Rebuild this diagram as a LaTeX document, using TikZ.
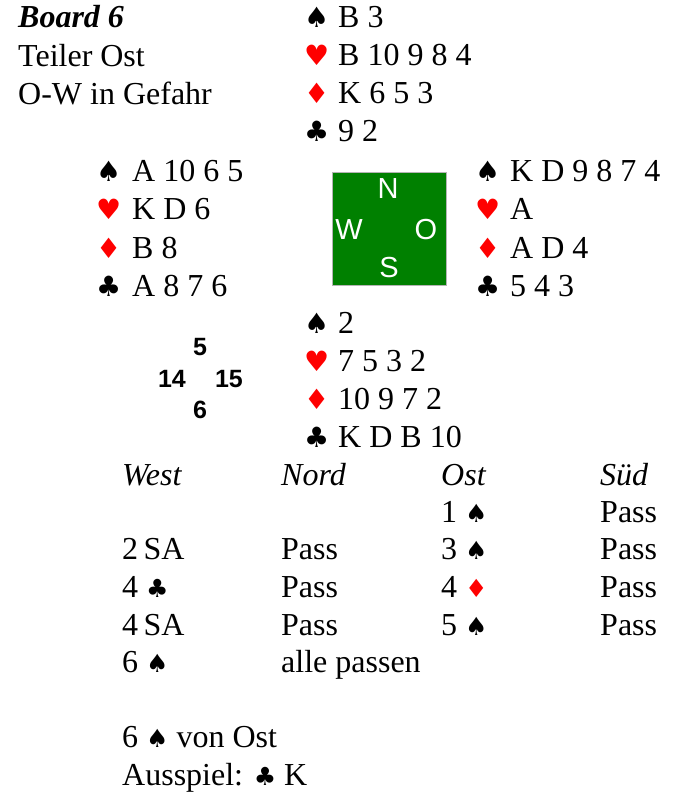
\documentclass[tikz,border=0pt]{standalone}
\usepackage{fontspec}
\setmainfont{Liberation Serif}
\newfontfamily\suitfont{DejaVu Sans}
\newfontfamily\arialfont{Liberation Sans}
\usepackage{xcolor}
\definecolor{suitred}{RGB}{255,0,0}
\definecolor{boardgreen}{RGB}{0,128,0}
\definecolor{boardedge}{RGB}{180,180,180}
\newcommand{\SuitS}{{\suitfont\char"2660}}
\newcommand{\SuitH}{{\suitfont\color{suitred}\char"2665}}
\newcommand{\SuitD}{{\suitfont\color{suitred}\char"2666}}
\newcommand{\SuitC}{{\suitfont\char"2663}}
\newcommand{\BidS}{{\fontsize{25}{25}\selectfont\SuitS}}
\newcommand{\BidD}{{\fontsize{25}{25}\selectfont\SuitD}}
\newcommand{\BidC}{{\fontsize{25}{25}\selectfont\SuitC}}

\begin{document}
\begin{tikzpicture}[x=1pt,y=-1pt,
    txt/.style={anchor=base west,inner sep=0pt,font=\fontsize{32}{32}\selectfont},
    suit/.style={anchor=base west,inner sep=0pt,font=\fontsize{28}{28}\selectfont},
    compass/.style={text=white,inner sep=0pt,font=\arialfont\fontsize{29}{29}\selectfont},
    hcp/.style={inner sep=0pt,font=\arialfont\bfseries\fontsize{25}{25}\selectfont}]
        \useasboundingbox (0,0) rectangle (675,794);
        % Board header
        \node[txt,font=\fontsize{32}{32}\selectfont\bfseries\itshape] (title) at (18,28) {Board 6};
        \node[txt] (dealer) at (18,67) {Teiler Ost};
        \node[txt] (vul) at (18,105) {O-W in Gefahr};
        % North
        \foreach \suit/\cards [count=\i] in {\SuitS/B 3,\SuitH/B 10 9 8 4,\SuitD/K 6 5 3,\SuitC/9 2}{
          \node[suit] (N-s\i) at (304,{28+38*(\i-1)}) {\suit};
          \node[txt] (N-c\i) at (338,{28+38*(\i-1)}) {\cards};
        }
        % West
        \foreach \suit/\cards [count=\i] in {\SuitS/A 10 6 5,\SuitH/K D 6,\SuitD/B 8,\SuitC/A 8 7 6}{
          \node[suit] (W-s\i) at (96,{182+38*(\i-1)}) {\suit};
          \node[txt] (W-c\i) at (132,{182+38*(\i-1)}) {\cards};
        }
        % East
        \foreach \suit/\cards [count=\i] in {\SuitS/K D 9 8 7 4,\SuitH/A,\SuitD/A D 4,\SuitC/5 4 3}{
          \node[suit] (E-s\i) at (475,{182+38*(\i-1)}) {\suit};
          \node[txt] (E-c\i) at (510,{182+38*(\i-1)}) {\cards};
        }
        % South
        \foreach \suit/\cards [count=\i] in {\SuitS/2,\SuitH/7 5 3 2,\SuitD/10 9 7 2,\SuitC/K D B 10}{
          \node[suit] (S-s\i) at (304,{333+38*(\i-1)}) {\suit};
          \node[txt] (S-c\i) at (338,{333+38*(\i-1)}) {\cards};
        }
        % Table
        \draw[boardedge,fill=boardgreen] (332,172) rectangle (446,285);
        \node[compass] (dirN) at (388,189) {N};
        \node[compass] (dirW) at (349,230) {W};
        \node[compass] (dirO) at (426,230) {O};
        \node[compass] (dirS) at (389,268) {S};
        % Points
        \node[hcp] (hcpN) at (200,347) {5};
        \node[hcp] (hcpW) at (172,379) {14};
        \node[hcp] (hcpO) at (229,379) {15};
        \node[hcp] (hcpS) at (200,410) {6};
        % Bidding
        \foreach \who/\x [count=\i] in {West/122,Nord/281,Ost/441,S\"ud/600}{
          \node[txt,font=\fontsize{32}{32}\selectfont\itshape] (head\i) at (\x,485) {\who};
        }
        \node[txt] (b1o) at (441,522) {1 \BidS};
        \node[txt] (b1s) at (600,522) {Pass};
        \node[txt] (b2w) at (122,559) {2\,SA};
        \node[txt] (b2n) at (281,559) {Pass};
        \node[txt] (b2o) at (441,559) {3 \BidS};
        \node[txt] (b2s) at (600,559) {Pass};
        \node[txt] (b3w) at (122,597) {4 \BidC};
        \node[txt] (b3n) at (281,597) {Pass};
        \node[txt] (b3o) at (441,597) {4 \BidD};
        \node[txt] (b3s) at (600,597) {Pass};
        \node[txt] (b4w) at (122,635) {4\,SA};
        \node[txt] (b4n) at (281,635) {Pass};
        \node[txt] (b4o) at (441,635) {5 \BidS};
        \node[txt] (b4s) at (600,635) {Pass};
        \node[txt] (b5w) at (122,672) {6 \BidS};
        \node[txt] (b5n) at (281,672) {alle passen};
        % Contract and lead
        \node[txt] (contract) at (122,747) {6 \BidS\ von Ost};
        \node[txt] (lead) at (122,785) {Ausspiel: \BidC\ K};
\end{tikzpicture}
\end{document}
